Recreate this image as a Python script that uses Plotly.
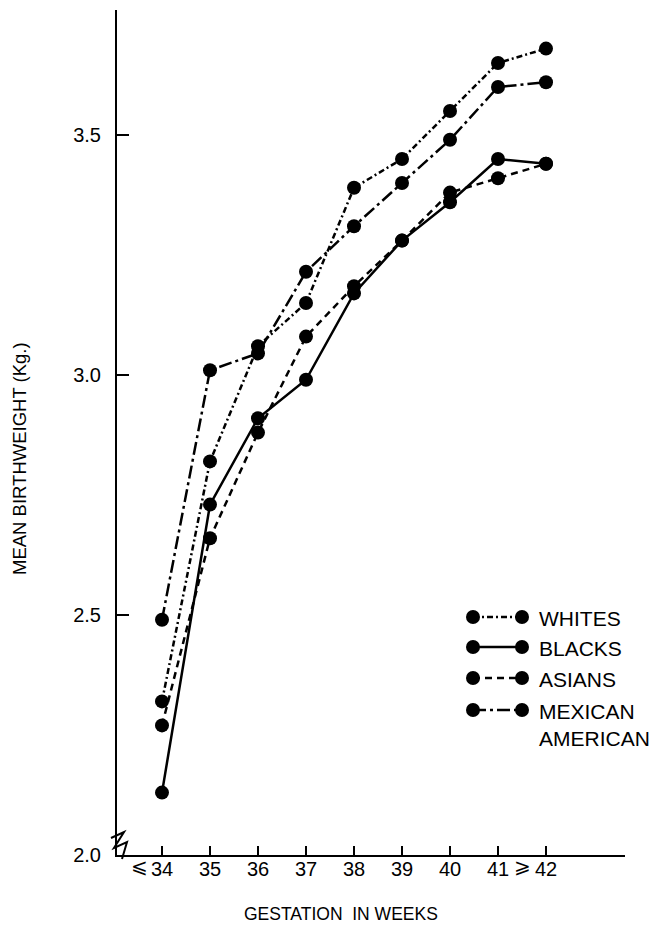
import plotly.graph_objects as go

# ---- data ----
weeks = [34, 35, 36, 37, 38, 39, 40, 41, 42]
tick_labels = ["34", "35", "36", "37", "38", "39", "40", "41", "42"]
whites = [2.32, 2.82, 3.06, 3.15, 3.39, 3.45, 3.55, 3.65, 3.68]
blacks = [2.13, 2.73, 2.91, 2.99, 3.17, 3.28, 3.36, 3.45, 3.44]
asians = [2.27, 2.66, 2.88, 3.08, 3.185, 3.28, 3.38, 3.41, 3.44]
mexican = [2.49, 3.01, 3.045, 3.215, 3.31, 3.40, 3.49, 3.60, 3.61]
y_ticks = [2.0, 2.5, 3.0, 3.5]
y_tick_labels = ["2.0", "2.5", "3.0", "3.5"]

series_names = ["WHITES", "BLACKS", "ASIANS", "MEXICAN<br>AMERICAN"]
series_values = [whites, blacks, asians, mexican]
dashes = ["6px,3px,2px,3px", "solid", "7px,5px", "13px,4px,3px,4px"]

# ---- layout geometry (pixels) ----
FW, FH = 658, 929
L, R, T, B = 117, 625, 10, 855
PW, PH = R - L, B - T

def px(xp):
    return (xp - L) / PW

def py(yp):
    return (B - yp) / PH

FONT = "Liberation Sans, Arial, sans-serif"

fig = go.Figure()
for name, vals, d in zip(series_names, series_values, dashes):
    fig.add_trace(go.Scatter(
        x=weeks, y=vals, mode="lines+markers", name=name,
        line=dict(color="black", width=2.5, dash=d),
        marker=dict(color="black", size=14),
        cliponaxis=False, showlegend=False, hoverinfo="skip",
    ))

shapes = []
annotations = []
# manual legend
legend_rows = [617, 647, 678, 710]
for name, d, yr in zip(series_names, dashes, legend_rows):
    shapes.append(dict(type="line", xref="paper", yref="paper",
                       x0=px(473), x1=px(522), y0=py(yr), y1=py(yr),
                       line=dict(color="black", width=2.5, dash=d)))
    for cx in (473, 522):
        shapes.append(dict(type="circle", xref="paper", yref="paper",
                           x0=px(cx - 7), x1=px(cx + 7), y0=py(yr + 7), y1=py(yr - 7),
                           fillcolor="black", line=dict(color="black", width=0)))
    annotations.append(dict(xref="paper", yref="paper", x=px(537), y=py(yr - 12),
                            xanchor="left", yanchor="top", align="left",
                            text=name, showarrow=False,
                            font=dict(family=FONT, size=21, color="black")))

# prefix symbols for first and last tick labels
annotations.append(dict(xref="x", yref="paper", x=weeks[0], y=py(853), xshift=-23,
                        xanchor="center", yanchor="top", text="⩽", showarrow=False,
                        font=dict(family=FONT, size=20, color="black")))
annotations.append(dict(xref="x", yref="paper", x=weeks[-1], y=py(853), xshift=-24,
                        xanchor="center", yanchor="top", text="⩾", showarrow=False,
                        font=dict(family=FONT, size=20, color="black")))

# axis titles
annotations.append(dict(xref="paper", yref="paper", x=px(19), y=py(459),
                        text="MEAN BIRTHWEIGHT (Kg.)", textangle=-90, showarrow=False,
                        xanchor="center", yanchor="middle",
                        font=dict(family=FONT, size=18.5, color="black")))
annotations.append(dict(xref="paper", yref="paper", x=px(341), y=py(914),
                        text="GESTATION&nbsp;&nbsp;IN WEEKS", showarrow=False,
                        xanchor="center", yanchor="middle",
                        font=dict(family=FONT, size=17.5, color="black")))

# axis break mark
shapes.append(dict(type="path", xref="paper", yref="paper",
                   path=f"M {px(111)},{py(838)} L {px(124)},{py(832)} L {px(114)},{py(848)} "
                        f"L {px(127)},{py(842)} L {px(122)},{py(859)}",
                   line=dict(color="black", width=2)))

fig.update_layout(
    width=FW, height=FH,
    margin=dict(l=L, r=FW - R, t=T, b=FH - B),
    paper_bgcolor="white", plot_bgcolor="white",
    shapes=shapes, annotations=annotations, hovermode=False,
    xaxis=dict(range=[34 - 45 / 48, 42 + 79 / 48], tickvals=weeks, ticktext=tick_labels,
               ticks="inside", ticklen=9, tickwidth=2, tickcolor="black",
               showline=True, linecolor="black", linewidth=2, showgrid=False, zeroline=False,
               ticklabelstandoff=-5,
               tickfont=dict(family=FONT, size=20, color="black")),
    yaxis=dict(range=[2.0, 2.0 + 845 / 480], tickvals=y_ticks, ticktext=y_tick_labels,
               ticks="inside", ticklen=12, tickwidth=2, tickcolor="black",
               showline=True, linecolor="black", linewidth=2, showgrid=False, zeroline=False,
               ticklabelstandoff=10,
               tickfont=dict(family=FONT, size=20, color="black")),
)

fig.write_html("out.html", config={"displayModeBar": False, "staticPlot": True},
               post_script="document.body.style.margin='0';document.body.style.overflow='hidden';")
